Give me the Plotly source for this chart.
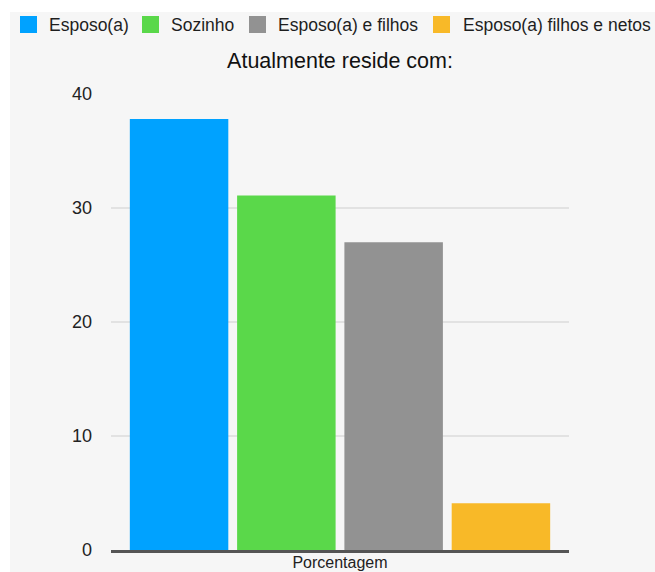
import plotly.graph_objects as go

# Data
categories = ["Porcentagem"]
series_names = ["Esposo(a)", "Sozinho", "Esposo(a) e filhos", "Esposo(a) filhos e netos"]
series_values = [37.8, 31.1, 27.0, 4.1]
series_colors = ["#00a2ff", "#5ad84a", "#929292", "#f8b928"]
y_ticks = [0, 10, 20, 30, 40]

W, H = 655, 572
ML, MR, MT, MB = 111, 86, 94, 22
PW = W - ML - MR
PH = H - MT - MB
FONT = "Liberation Sans, Arial, Helvetica, sans-serif"
BG = "#f6f6f6"


def px(x):
    """pixel x (from left) -> paper x"""
    return (x - ML) / PW


def py(y):
    """pixel y (from top) -> paper y"""
    return (H - MB - y) / PH


fig = go.Figure()
for name, val, col in zip(series_names, series_values, series_colors):
    fig.add_trace(go.Bar(
        x=categories, y=[val], name=name,
        marker=dict(color=col, line=dict(width=0)),
        showlegend=False,
    ))

shapes = [
    # light grey page panel
    dict(type="rect", xref="paper", yref="paper",
         x0=px(10), x1=px(W + 5), y0=py(H + 5), y1=py(12),
         fillcolor=BG, line=dict(width=0), layer="below"),
]
annotations = []

# legend row along the top
legend_square_x = [20, 142, 249, 433]
legend_text_x = [47, 169, 276, 461]
for name, col, sx, tx in zip(series_names, series_colors, legend_square_x, legend_text_x):
    shapes.append(dict(type="rect", xref="paper", yref="paper",
                       x0=px(sx), x1=px(sx + 17), y0=py(33), y1=py(16),
                       fillcolor=col, line=dict(width=0), layer="above"))
    annotations.append(dict(text=name, xref="paper", yref="paper",
                            x=px(tx), y=py(24.5), xanchor="left", yanchor="middle",
                            showarrow=False, font=dict(family=FONT, size=17.5, color="#1e1e1e")))

fig.update_layout(
    width=W, height=H,
    margin=dict(l=ML, r=MR, t=MT, b=MB, pad=0, autoexpand=False),
    paper_bgcolor="white",
    plot_bgcolor=BG,
    barmode="group",
    bargap=0.063,
    bargroupgap=0.082,
    showlegend=False,
    font=dict(family=FONT, color="#222"),
    title=dict(text="Atualmente reside com:", x=0.5, xref="paper", xanchor="center",
               y=1 - 60 / H, yref="container", yanchor="middle",
               font=dict(family=FONT, size=21.5, color="#111"), automargin=False),
    shapes=shapes,
    annotations=annotations,
)
fig.update_yaxes(
    range=[0, 40], tickvals=y_ticks, ticks="", ticklabelstandoff=18,
    showgrid=True, gridcolor="#e2e2e2", gridwidth=2,
    zeroline=False, showline=False, automargin=False,
    tickfont=dict(family=FONT, size=18, color="#222"),
)
fig.update_xaxes(
    showline=True, linecolor="#555", linewidth=3, ticks="",
    ticklabelstandoff=-4, automargin=False,
    tickfont=dict(family=FONT, size=16, color="#222"),
)

fig.write_html("out.html")
